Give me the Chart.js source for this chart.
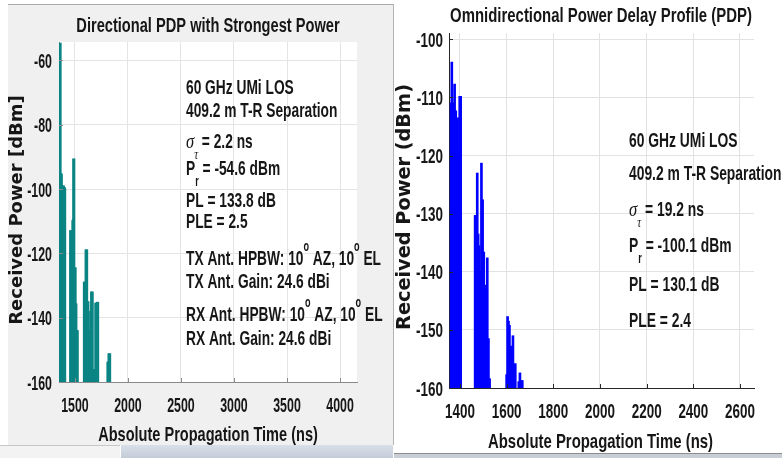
<!DOCTYPE html>
<html>
<head>
<meta charset="utf-8">
<script src="https://cdn.jsdelivr.net/npm/chart.js@4.4.1/dist/chart.umd.min.js"></script>
<style>
  html, body { margin: 0; padding: 0; background: #fff; }
  body { width: 782px; height: 458px; position: relative; overflow: hidden; }
  .abs { position: absolute; }
  #leftPanel { left: 8px; top: 4px; width: 386px; height: 441px; background: #f0f0f0; }
  #leftTopLine { left: 8px; top: 4px; width: 386px; height: 1px; background: #a9a9a9; }
  #leftRightLine { left: 393px; top: 4px; width: 1px; height: 441px; background: #b4b4b4; }
  #stripA { left: 0; top: 445px; width: 120px; height: 13px; background: #f3f3f3; border-top: 1px solid #c8c8c8; }
  #stripB { left: 121px; top: 445px; width: 272px; height: 13px; background: linear-gradient(#d9dfe8, #c3ccd8); }
  #stripC { left: 394px; top: 453px; width: 388px; height: 5px; background: #c9ced6; border-top: 1px solid #8d8d8d; }
</style>
</head>
<body>
<div class="abs" id="leftPanel"><canvas id="dirChart" width="386" height="441"></canvas></div>
<div class="abs" id="leftTopLine"></div>
<div class="abs" id="leftRightLine"></div>
<div class="abs" style="left:394px;top:0;width:388px;height:453px;"><canvas id="omniChart" width="388" height="453"></canvas></div>
<div class="abs" id="stripA"></div>
<div class="abs" id="stripB"></div>
<div class="abs" id="stripC"></div>
<script>
// --- data ---
// Directional PDP (left)
const dirTimeNs = [
  1360, 1363, 1367, 1371, 1375, 1379, 1383, 1387, 1391, 1395, 1399, 1403,
  1461, 1464, 1467, 1470, 1474, 1478, 1482, 1486, 1489, 1493, 1497, 1501, 1505, 1509, 1513, 1517, 1521,
  1590, 1594, 1598, 1602, 1606, 1610, 1614, 1618, 1622, 1626, 1630, 1634, 1638, 1642, 1646, 1650,
  1654, 1658, 1662, 1666, 1670, 1674, 1678, 1682, 1686, 1690, 1694, 1698, 1702, 1706, 1710, 1714,
  1812, 1817, 1822, 1827
];
const dirPowerDbm = [
  -54.6, -95.2, -95.2, -95.5, -99, -99, -99.5, -100, -99, -100, -99.5, -100,
  -112.9, -113, -118.6, -118, -117.5, -117, -109.8, -109.5, -90.6, -124.5, -124.5, -124.5, -135.7, -135.7, -144, -144, -144,
  -128.9, -129, -141, -134, -118.9, -118.9, -135.2, -135.2, -135, -144, -144, -147.6, -147.6, -146, -144.5, -138,
  -138, -132, -132, -156.2, -156.2, -156.2, -156.2, -156.2, -157.3, -157.3, -157.3, -135.5, -135.5, -157, -135.2, -135.2,
  -153.8, -153.8, -151.2, -151.2
];
const dirXTicks = [1500, 2000, 2500, 3000, 3500, 4000];
const dirYTicks = [-160, -140, -120, -100, -80, -60];

// Omnidirectional PDP (right)
const omniTimeNs = [
  1362, 1365, 1369, 1373, 1377, 1382, 1386, 1390, 1394, 1399, 1403,
  1465, 1467, 1470, 1474, 1478, 1482, 1487, 1492, 1497, 1502, 1507, 1512, 1517, 1522, 1527,
  1600, 1604, 1608, 1612, 1616, 1621, 1627, 1632, 1637, 1652, 1657, 1667
];
const omniPowerDbm = [
  -110.9, -103.9, -110.9, -114, -107.7, -112.3, -113.7, -113.5, -119.4, -109.8, -109.8,
  -130.3, -130.3, -130.5, -123, -133.5, -135.5, -139.8, -121.3, -127.6, -136.6, -145.5, -142.3, -137.6, -151.5, -158.4,
  -157.7, -147.7, -148.5, -149.2, -152.8, -152.8, -151, -157.7, -155.8, -158.9, -157.4, -158.7
];
const omniXTicks = [1400, 1600, 1800, 2000, 2200, 2400, 2600];
const omniYTicks = [-160, -150, -140, -130, -120, -110, -100];

const FLOOR_DBM = -160;

const dirNotes = [
  [['60 GHz UMi LOS']],
  [['409.2 m T-R Separation']],
  [['σ', 'it'], ['τ', 'itsub'], [' = 2.2 ns']],
  [['P'], ['r', 'sub'], [' = -54.6 dBm']],
  [['PL = 133.8 dB']],
  [['PLE = 2.5']],
  [['TX Ant. HPBW: 10'], ['o', 'sup'], [' AZ, 10'], ['o', 'sup'], [' EL']],
  [['TX Ant. Gain: 24.6 dBi']],
  [['RX Ant. HPBW: 10'], ['o', 'sup'], [' AZ, 10'], ['o', 'sup'], [' EL']],
  [['RX Ant. Gain: 24.6 dBi']]
];
const omniNotes = [
  [['60 GHz UMi LOS']],
  [['409.2 m T-R Separation']],
  [['σ', 'it'], ['τ', 'itsub'], [' = 19.2 ns']],
  [['P'], ['r', 'sub'], [' = -100.1 dBm']],
  [['PL = 130.1 dB']],
  [['PLE = 2.4']]
];

// --- text helpers (MATLAB text looks horizontally condensed) ---
const SANS = "'Liberation Sans', Arial, sans-serif";
const SERIF = "'Liberation Serif', 'Times New Roman', serif";
const INK = '#161616';

function drawText(ctx, str, x, y, o) {
  ctx.save();
  ctx.font = (o.weight || 'bold') + ' ' + o.size + 'px ' + (o.family || SANS);
  ctx.fillStyle = INK;
  ctx.textBaseline = 'alphabetic';
  ctx.textAlign = 'left';
  const sx = o.sx || 1;
  const w = ctx.measureText(str).width * sx;
  let x0 = x;
  if (o.align === 'center') x0 = x - w / 2;
  else if (o.align === 'right') x0 = x - w;
  ctx.translate(x0, y);
  ctx.scale(sx, 1);
  ctx.fillText(str, 0, 0);
  ctx.restore();
}

function drawRich(ctx, segs, x, y, size, sx) {
  let cx = x;
  for (const [t, kind = ''] of segs) {
    const small = kind.includes('sub') || kind.includes('sup');
    const italic = kind.includes('it');
    const fs = small ? size * 0.66 : size;
    const dy = kind.includes('sub') ? size * 0.5 : kind.includes('sup') ? -size * 0.66 : 0;
    ctx.save();
    ctx.font = (italic ? 'italic ' : 'bold ') + fs + 'px ' + (italic ? SERIF : SANS);
    ctx.fillStyle = INK;
    ctx.textBaseline = 'alphabetic';
    const s = italic ? sx * 1.2 : sx;
    const w = ctx.measureText(t).width * s;
    ctx.translate(cx, y + dy);
    ctx.scale(s, 1);
    ctx.fillText(t, 0, 0);
    ctx.restore();
    cx += w;
  }
}

function drawYLabel(ctx, str, cx, cy, size) {
  ctx.save();
  ctx.translate(cx, cy);
  ctx.rotate(-Math.PI / 2);
  ctx.font = 'bold ' + size + 'px "DejaVu Sans", Verdana, sans-serif';
  ctx.fillStyle = INK;
  ctx.textAlign = 'center';
  ctx.textBaseline = 'middle';
  ctx.fillText(str, 0, 0);
  ctx.restore();
}

function makeDecor(cfg) {
  return {
    id: 'decor_' + cfg.name,
    beforeDraw(chart) {
      const a = chart.chartArea, ctx = chart.ctx;
      ctx.save();
      ctx.fillStyle = '#ffffff';
      ctx.fillRect(a.left, a.top, a.right - a.left, a.bottom - a.top);
      ctx.restore();
    },
    afterDraw(chart) {
      const ctx = chart.ctx, a = chart.chartArea;
      const xs = chart.scales.x, ys = chart.scales.y;
      // inward tick marks
      ctx.save();
      ctx.strokeStyle = cfg.axisColor;
      ctx.lineWidth = 1;
      ctx.beginPath();
      xs.ticks.forEach(t => {
        const px = Math.round(xs.getPixelForValue(t.value)) + 0.5;
        ctx.moveTo(px, a.bottom); ctx.lineTo(px, a.bottom - 4);
      });
      ys.ticks.forEach(t => {
        const py = Math.round(ys.getPixelForValue(t.value)) + 0.5;
        ctx.moveTo(a.left, py); ctx.lineTo(a.left + 4, py);
      });
      ctx.stroke();
      ctx.restore();
      // tick labels
      xs.ticks.forEach(t => drawText(ctx, String(t.value), xs.getPixelForValue(t.value), a.bottom + cfg.xTickDy,
        { size: cfg.tickSize, sx: cfg.tickSx, align: 'center' }));
      ys.ticks.forEach(t => drawText(ctx, String(t.value), a.left - cfg.yTickGap, ys.getPixelForValue(t.value) + cfg.tickSize * 0.36,
        { size: cfg.tickSize, sx: cfg.tickSx, align: 'right' }));
      // titles
      drawText(ctx, cfg.title, cfg.titleX, cfg.titleY, { size: cfg.titleSize, sx: cfg.titleSx, align: 'center' });
      drawText(ctx, 'Absolute Propagation Time (ns)', cfg.xLabelX, cfg.xLabelY, { size: cfg.xLabelSize, sx: cfg.xLabelSx, align: 'center' });
      drawYLabel(ctx, cfg.yLabel, cfg.yLabelX, cfg.yLabelY, cfg.yLabelSize);
      // annotation block
      cfg.notes.forEach((segs, i) => drawRich(ctx, segs, cfg.noteX, cfg.noteY[i], cfg.noteSize, cfg.noteSx));
    }
  };
}

function pdpChart(id, times, powers, color, thickness, xMin, xMax, yMax, xTicks, yTicks, box, cfg) {
  const canvas = document.getElementById(id);
  return new Chart(canvas.getContext('2d'), {
    type: 'bar',
    data: {
      datasets: [{
        data: times.map((t, i) => ({ x: t, y: [FLOOR_DBM, powers[i]] })),
        backgroundColor: color,
        borderWidth: 0,
        barThickness: thickness,
        grouped: false
      }]
    },
    options: {
      responsive: false,
      animation: false,
      events: [],
      layout: { padding: { left: 0, top: box.top, right: canvas.width - box.right, bottom: 0 } },
      plugins: { legend: { display: false }, tooltip: { enabled: false }, title: { display: false } },
      scales: {
        x: {
          type: 'linear', min: xMin, max: xMax, offset: false,
          afterBuildTicks: s => { s.ticks = xTicks.map(v => ({ value: v })); },
          afterFit: s => { s.height = canvas.height - box.bottom; },
          ticks: { display: false },
          grid: { color: cfg.gridColor, drawTicks: false, offset: false },
          border: { color: cfg.axisColor, width: 1 }
        },
        y: {
          min: FLOOR_DBM, max: yMax,
          afterBuildTicks: s => { s.ticks = yTicks.map(v => ({ value: v })); },
          afterFit: s => { s.width = box.left; },
          ticks: { display: false },
          grid: { color: cfg.gridColor, drawTicks: false },
          border: { color: cfg.axisColor, width: 1 }
        }
      }
    },
    plugins: [makeDecor(cfg)]
  });
}

pdpChart('dirChart', dirTimeNs, dirPowerDbm, '#0b8484', 2.5, 1350, 4160, -54.3, dirXTicks, dirYTicks,
  { left: 51, top: 38, right: 349, bottom: 378 },
  {
    name: 'dir', axisColor: '#8a8a8a', gridColor: '#e4e4e4',
    tickSize: 21, tickSx: 0.59, xTickDy: 30, yTickGap: 7,
    title: 'Directional PDP with Strongest Power', titleX: 200, titleY: 28, titleSize: 19.5, titleSx: 0.75,
    xLabelX: 200, xLabelY: 437, xLabelSize: 20.5, xLabelSx: 0.71,
    yLabel: 'Received Power [dBm]', yLabelX: 9, yLabelY: 206, yLabelSize: 18,
    notes: dirNotes, noteX: 178, noteY: [90, 113, 144, 171, 203, 224, 261, 284, 317, 341],
    noteSize: 21, noteSx: 0.655
  });

pdpChart('omniChart', omniTimeNs, omniPowerDbm, '#0000ff', 2, 1353, 2660, -98.9, omniXTicks, omniYTicks,
  { left: 55, top: 33, right: 360, bottom: 388 },
  {
    name: 'omni', axisColor: '#262626', gridColor: '#e2e2e2',
    tickSize: 21, tickSx: 0.64, xTickDy: 30, yTickGap: 6,
    title: 'Omnidirectional Power Delay Profile (PDP)', titleX: 207, titleY: 22, titleSize: 20.5, titleSx: 0.728,
    xLabelX: 206.5, xLabelY: 448, xLabelSize: 21, xLabelSx: 0.71,
    yLabel: 'Received Power (dBm)', yLabelX: 11, yLabelY: 207, yLabelSize: 19.3,
    notes: omniNotes, noteX: 235, noteY: [147, 180, 216, 252, 291, 327],
    noteSize: 21, noteSx: 0.66
  });
</script>
</body>
</html>
